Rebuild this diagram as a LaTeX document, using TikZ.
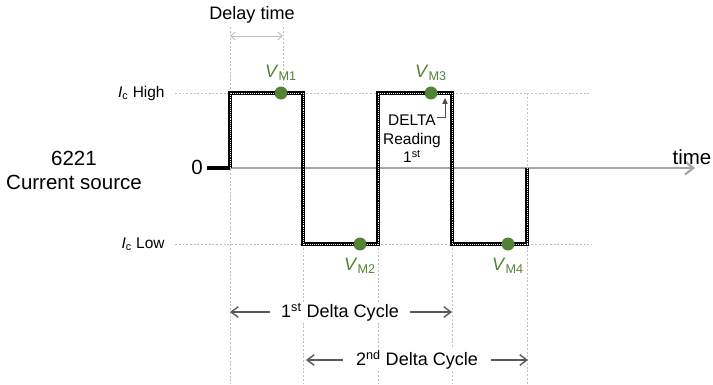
\documentclass[tikz,border=0pt]{standalone}
\usepackage{fontspec}
\setmainfont{Liberation Sans}
\usetikzlibrary{arrows.meta,positioning}
\definecolor{vmgreen}{HTML}{548235}
\definecolor{axisgray}{HTML}{A6A6A6}
\definecolor{gridgray}{HTML}{BFBFBF}
\definecolor{cycgray}{HTML}{595959}

\begin{document}
\begin{tikzpicture}[x=0.03cm,y=-0.03cm,
  txt/.style={font=\fontsize{17.5}{20.5}\selectfont,inner sep=1pt,align=center},
  mid/.style={font=\fontsize{15.4}{18}\selectfont,inner sep=1pt},
  sml/.style={font=\fontsize{13.2}{15.8}\selectfont,inner sep=1pt,align=center},
  grid/.style={draw=gridgray,line width=0.7pt,dash pattern=on 1.6pt off 1.6pt},
  dot/.style={circle,fill=vmgreen,minimum size=0.39cm,inner sep=0pt},
  vm/.style={mid,text=vmgreen},
  cyc/.style={draw=cycgray,line width=1.2pt,-{Straight Barb[length=6pt,width=9pt]}},
  wave/.style={line width=2.6pt,line join=miter}]
\useasboundingbox (0,0) rectangle (713,384);

% dotted guide lines
\draw[grid] (175,93) -- (590,93);
\draw[grid] (175,244) -- (592,244);
\foreach \x/\a/\b in {230/27/384,283/27/93,303/244/384,378/244/384,452/244/384,527/93/384}
  \draw[grid] (\x,\a) -- (\x,\b);

% time axis
\coordinate (t0) at (230,168);
\coordinate (t1) at (695,168);
\draw[draw=axisgray,line width=1.9pt,-{Straight Barb[length=7pt,width=11pt]}] (t0) -- (t1);
\node[txt] (time) at (692,157) {time};

% waveform
\coordinate (w0) at (207,168);
\draw[wave] (w0) -- (t0);
\draw[wave] (t0) -- (230,93) -- (303,93) -- (303,244) -- (378,244) -- (378,93)
  -- (452,93) -- (452,244) -- (527,244) -- (527,168);
\draw[white,line width=0.8pt,dash pattern=on 0.9pt off 0.9pt] (t0) -- (230,93) -- (303,93)
  -- (303,244) -- (378,244) -- (378,93) -- (452,93) -- (452,244) -- (527,244) -- (527,168);

% level labels
\node[txt] (zero) at (197,167) {0};
\node[sml,anchor=east] (high) at (166,93) {\textit{I}\textsubscript{c} High};
\node[sml,anchor=east] (low) at (166,244) {\textit{I}\textsubscript{c} Low};
\node[txt] (src) at (74,170) {6221\\Current source};

% delay time
\node[mid] (delay) at (252,15) {Delay time};
\coordinate (d0) at (230,36);
\coordinate (d1) at (283,36);
\draw[draw=gridgray,line width=0.8pt,{Straight Barb[length=4pt,width=7pt]}-{Straight Barb[length=4pt,width=7pt]}] (d0) -- (d1);

% measurement points
\node[dot] (m1) at (281,93) {};
\node[dot] (m2) at (360,244) {};
\node[dot] (m3) at (431,93) {};
\node[dot] (m4) at (508,244) {};
\node[vm,above=4pt of m1] (vm1) {\textit{V}\textsubscript{M1}};
\node[vm,below=5pt of m2] (vm2) {\textit{V}\textsubscript{M2}};
\node[vm,above=4pt of m3] (vm3) {\textit{V}\textsubscript{M3}};
\node[vm,below=5pt of m4] (vm4) {\textit{V}\textsubscript{M4}};

% first reading
\node[sml] (rd) at (412,139) {DELTA\\Reading\\1\textsuperscript{st}};
\coordinate (r0) at (437,117);
\coordinate (r1) at (445,98);
\draw[black!70,line width=0.8pt,-{Triangle[length=5pt,width=4.5pt]}] (r0) -| (r1);

% delta cycles
\node[mid,fill=white,inner xsep=9pt] (c1) at (340,312) {1\textsuperscript{st} Delta Cycle};
\coordinate (c1l) at (230,312);
\coordinate (c1r) at (452,312);
\draw[cyc] (c1.west) -- (c1l);
\draw[cyc] (c1.east) -- (c1r);
\node[mid,fill=white,inner xsep=11pt] (c2) at (417,360) {2\textsuperscript{nd} Delta Cycle};
\coordinate (c2l) at (306,360);
\coordinate (c2r) at (528,360);
\draw[cyc] (c2.west) -- (c2l);
\draw[cyc] (c2.east) -- (c2r);
\end{tikzpicture}
\end{document}
